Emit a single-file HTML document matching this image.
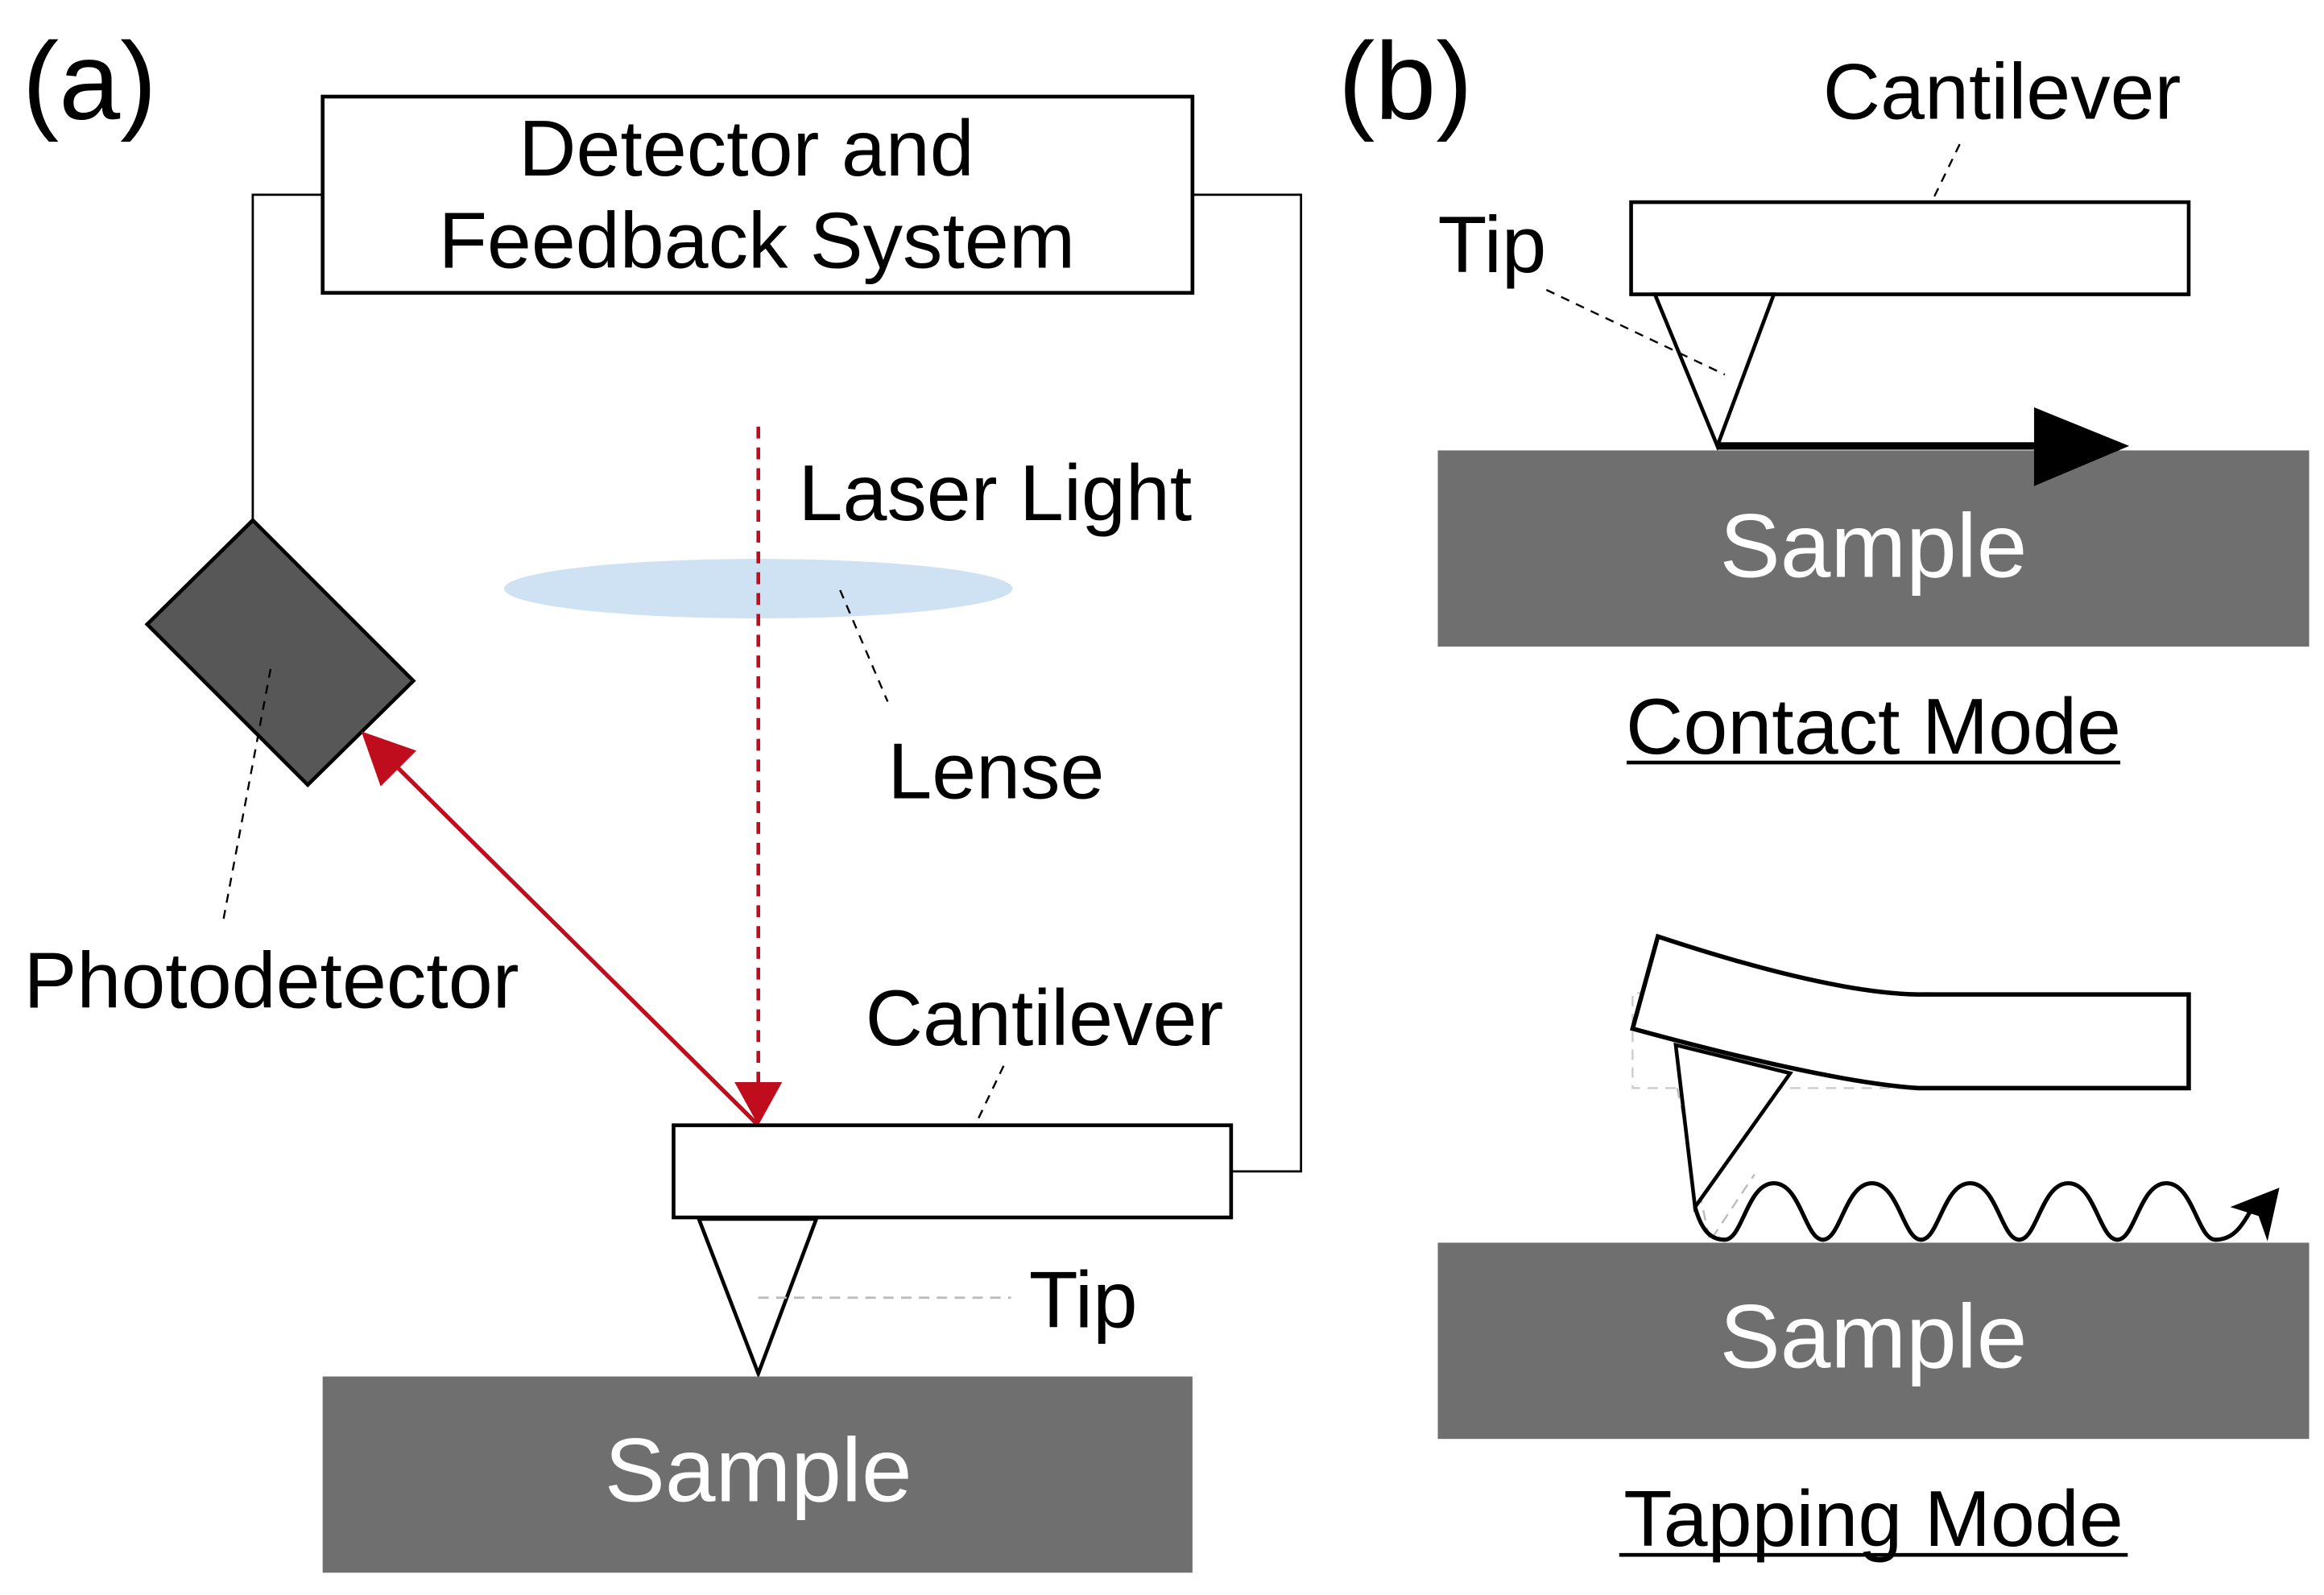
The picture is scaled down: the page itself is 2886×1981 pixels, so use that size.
<!DOCTYPE html>
<html><head><meta charset="utf-8"><style>
html,body{margin:0;padding:0;background:#fff;}
svg{display:block;}
text{font-family:"Liberation Sans",Arial,sans-serif;}
</style></head><body>
<svg width="2886" height="1981" viewBox="0 0 1563 1073" preserveAspectRatio="none" xmlns="http://www.w3.org/2000/svg">
<!-- (a) -->
<text x="15" y="80" font-size="74">(a)</text>
<rect x="217" y="65" width="585" height="132" fill="#fff" stroke="#000" stroke-width="2.5"/>
<text x="502" y="118" font-size="53.5" text-anchor="middle">Detector and</text>
<text x="509" y="180" font-size="53.5" text-anchor="middle">Feedback System</text>
<polyline points="217,131 170,131 170,350" fill="none" stroke="#000" stroke-width="1.5"/>
<polyline points="802,131 875,131 875,788 828,788" fill="none" stroke="#000" stroke-width="1.5"/>
<polygon points="170,350 278,458 207,528 99,420" fill="#575757" stroke="#000" stroke-width="2.5"/>
<line x1="182" y1="450" x2="150" y2="620" stroke="#000" stroke-width="1.3" stroke-dasharray="6,5"/>
<text x="16" y="678" font-size="53.5">Photodetector</text>
<ellipse cx="510" cy="396" rx="171" ry="20" fill="#cfe2f3"/>
<line x1="565" y1="397" x2="597" y2="472" stroke="#000" stroke-width="1.3" stroke-dasharray="6,5"/>
<text x="537" y="350" font-size="53.5">Laser Light</text>
<text x="597" y="537" font-size="53.5">Lense</text>
<line x1="510" y1="287" x2="510" y2="732" stroke="#c00d1e" stroke-width="2.5" stroke-dasharray="8,6"/>
<polygon points="494,728 526,728 510,757" fill="#c00d1e"/>
<line x1="258" y1="507" x2="510" y2="757" stroke="#c00d1e" stroke-width="2.8"/>
<polygon points="243,492 280,505 256,529" fill="#c00d1e"/>
<text x="582" y="703" font-size="53.5">Cantilever</text>
<line x1="675" y1="717" x2="640" y2="790" stroke="#000" stroke-width="1.3" stroke-dasharray="6,5"/>
<rect x="453" y="757" width="375" height="62" fill="#fff" stroke="#000" stroke-width="2.5"/>
<polygon points="470,820 549,820 510,924" fill="#fff" stroke="#000" stroke-width="2.5"/>
<line x1="510" y1="873" x2="680" y2="873" stroke="#bbb" stroke-width="1.5" stroke-dasharray="7,5"/>
<text x="692" y="893" font-size="54">Tip</text>
<rect x="217" y="926" width="585" height="132" fill="#6f6f6f"/>
<text x="510" y="1010" font-size="61" fill="#fff" text-anchor="middle">Sample</text>

<!-- (b) -->
<text x="900" y="80" font-size="74">(b)</text>
<text x="1226" y="80" font-size="53.5">Cantilever</text>
<line x1="1318" y1="97" x2="1285" y2="165" stroke="#000" stroke-width="1.3" stroke-dasharray="6,5"/>
<rect x="1097" y="136" width="375" height="62" fill="#fff" stroke="#000" stroke-width="2.5"/>
<text x="967" y="183" font-size="54">Tip</text>
<polygon points="1113,198 1193,198 1155,300" fill="#fff" stroke="#000" stroke-width="2.5"/>
<line x1="1040" y1="195" x2="1160" y2="252" stroke="#000" stroke-width="1.3" stroke-dasharray="6,5"/>
<rect x="967" y="303" width="586" height="132" fill="#6f6f6f"/>
<line x1="1155" y1="300" x2="1380" y2="300" stroke="#000" stroke-width="5"/>
<polygon points="1368,274 1432,300 1368,327" fill="#000"/>
<text x="1260" y="388" font-size="61" fill="#fff" text-anchor="middle">Sample</text>
<text x="1260" y="507" font-size="53.5" text-anchor="middle">Contact Mode</text>
<line x1="1094" y1="513" x2="1426" y2="513" stroke="#000" stroke-width="2.5"/>

<!-- tapping -->
<polyline points="1300,668 1098,668 1098,732 1300,732" fill="none" stroke="#ccc" stroke-width="1.3" stroke-dasharray="7,5"/>
<polyline points="1128,732 1150,835 1180,790" fill="none" stroke="#bbb" stroke-width="1.3" stroke-dasharray="7,5"/>
<path d="M1115,630 Q1230,668 1290,669 L1472,669 L1472,732 L1290,732 Q1230,728 1098,692 Z" fill="#fff" stroke="#000" stroke-width="3"/>
<polygon points="1127,703 1204,722 1140,812" fill="#fff" stroke="#000" stroke-width="2.5"/>
<rect x="967" y="836" width="586" height="132" fill="#6f6f6f"/>
<path d="M1140,812 C1145,830 1152,834 1160,834 C1172,834 1175,796 1193,796 C1211,796 1214,834 1226,834 C1238,834 1241,796 1259,796 C1277,796 1280,834 1292,834 C1304,834 1307,796 1325,796 C1343,796 1346,834 1358,834 C1370,834 1373,796 1391,796 C1409,796 1412,834 1424,834 C1436,834 1439,796 1457,796 C1475,796 1478,834 1490,834 C1502,834 1508,825 1515,812" fill="none" stroke="#000" stroke-width="2.8"/>
<polygon points="1533,799 1525,835 1519,818 1500,812" fill="#000"/>
<text x="1260" y="920" font-size="61" fill="#fff" text-anchor="middle">Sample</text>
<text x="1260" y="1040" font-size="53.5" text-anchor="middle">Tapping Mode</text>
<line x1="1089" y1="1046" x2="1431" y2="1046" stroke="#000" stroke-width="2.5"/>
</svg>
</body></html>
